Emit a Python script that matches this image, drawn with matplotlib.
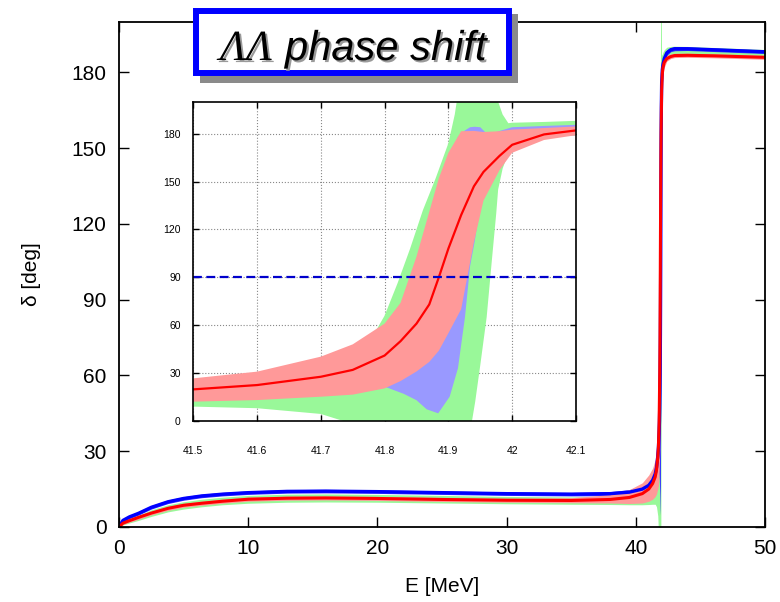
import matplotlib
matplotlib.use('Agg')
import matplotlib.pyplot as plt
import matplotlib.patheffects as pe
from matplotlib.patches import Rectangle

plt.rcParams['font.family'] = ['Liberation Sans', 'DejaVu Sans']

# red: central result with its band
red_E = [0, 0.3, 0.8, 1.5, 2.5, 3.8, 5, 6.4, 8, 10, 13, 16, 20, 25, 30, 35, 38, 39.5, 40.5, 41, 41.3,
         41.5, 41.6, 41.7, 41.75, 41.8, 41.825, 41.85, 41.87, 41.885, 41.9, 41.92, 41.94, 41.955, 41.98,
         42.0, 42.05, 42.1, 42.2, 42.4, 42.7, 43, 44, 46, 48, 50]
red_mid = [0, 1.5, 2.5, 3.8, 5.5, 7.4, 8.6, 9.4, 10.2, 11, 11.4, 11.5, 11.3, 10.9, 10.6, 10.5, 10.9, 11.7, 13.2, 15, 17.2,
           19.8, 22.5, 27.7, 32, 41, 50, 61, 73, 90, 108, 129, 147, 156, 166,
           173, 179.5, 182, 184, 185.5, 186.3, 186.7, 186.8, 186.6, 186.3, 186]
red_lo = [0, 1.0, 1.9, 3.0, 4.8, 6.6, 7.8, 8.6, 9.4, 10.2, 10.6, 10.7, 10.5, 10.1, 9.8, 9.6, 9.5, 9.3, 9.5, 10.2, 11,
          12.1, 13.1, 15.2, 16.5, 20.4, 25, 31, 37, 44, 55, 70, 112, 138, 157,
          168, 176, 179, 182, 184.5, 185.5, 185.9, 186, 185.8, 185.5, 185.2]
red_hi = [0, 2.0, 3.1, 4.6, 6.2, 8.2, 9.4, 10.2, 11.0, 11.8, 12.2, 12.3, 12.1, 11.7, 11.4, 11.6, 12.8, 14.8, 17.5, 20.6, 23.3,
          26.7, 30.9, 40.3, 48, 61, 74, 103, 131, 152, 168, 181.5, 181.7, 181, 181.5,
          182.5, 183.5, 184.5, 185.7, 186.8, 187.3, 187.6, 187.6, 187.4, 187.1, 186.8]

# blue result
blue_E = [0, 0.3, 0.8, 1.5, 2.5, 3.8, 5, 6.4, 8, 10, 13, 16, 20, 25, 30, 35, 38, 39.5, 40.5, 41, 41.3,
          41.5, 41.6, 41.7, 41.75, 41.8, 41.83, 41.85, 41.866, 41.884, 41.902, 41.915, 41.926, 41.934, 41.941,
          41.95, 41.96, 41.975, 42.0, 42.05, 42.1, 42.2, 42.4, 42.7, 43, 44, 46, 48, 50]
blue_mid = [0, 2.6, 4.0, 5.4, 7.8, 10, 11.3, 12.3, 13, 13.6, 14.1, 14.2, 14, 13.6, 13.2, 13, 13.2, 13.8, 15, 16.5, 18.5,
            21, 23.5, 28, 31.5, 37, 42, 47, 53, 62, 76, 90, 105, 118, 130,
            143, 155, 166, 176, 181, 183, 185.5, 187.8, 189, 189.4, 189.4, 189, 188.6, 188.2]
blue_lo = [0, 2.0, 3.3, 4.7, 7.1, 9.3, 10.6, 11.6, 12.3, 12.9, 13.4, 13.5, 13.3, 12.9, 12.5, 12.3, 12.4, 12.8, 13.3, 13.6, 13.8,
           14, 14.5, 16.5, 18.5, 21.5, 17, 13, 7.3, 4.8, 15.2, 33, 65, 97, 112,
           135, 148, 159, 170, 178, 181, 184, 186.8, 188.2, 188.6, 188.7, 188.3, 187.9, 187.5]
blue_hi = [0, 3.2, 4.7, 6.1, 8.5, 10.7, 12, 13, 13.7, 14.3, 14.8, 14.9, 14.7, 14.3, 13.9, 13.7, 14, 14.8, 16.5, 19, 22,
           25, 29, 38, 46, 58, 72, 90, 110, 135, 165, 178, 182, 184, 184.3,
           184, 180, 181, 184, 184.8, 185.5, 187, 189, 189.8, 190.2, 190.1, 189.7, 189.3, 188.9]

# green result (band only)
green_E = [0, 0.3, 0.8, 1.5, 2.5, 3.8, 5, 6.4, 8, 10, 13, 16, 20, 25, 30, 35, 38, 39.5, 40.5, 41, 41.3,
           41.5, 41.6, 41.7, 41.735, 41.777, 41.8, 41.82, 41.84, 41.86, 41.88, 41.9, 41.91, 41.915, 41.937,
           41.942, 41.95, 41.96, 41.968, 41.975, 41.978, 41.985, 41.994, 42.0, 42.05, 42.1, 42.2, 42.4, 42.7,
           43, 44, 46, 48, 50]
green_lo = [0, 0.8, 1.6, 2.6, 4.2, 6, 7.1, 8, 8.8, 9.4, 9.8, 9.9, 9.8, 9.5, 9.2, 9, 8.9, 8.8, 8.8, 8.9, 9,
            9, 8, 4.4, 0, 0, 0, 0, 0, 0, 0, 0, 0, 0, 0,
            12, 35, 65, 100, 130, 145, 158, 168, 172, 180, 183, 185, 186.5, 187,
            187.3, 187.3, 187, 186.6, 186.2]
green_hi = [0, 1.8, 3.2, 4.6, 6.8, 8.8, 10, 11, 11.8, 12.5, 13, 13.1, 12.9, 12.5, 12.1, 11.9, 12.1, 12.8, 14, 16, 18.5,
            22, 25, 34, 40, 50, 66, 86, 108, 132, 152, 174, 192, 205, 205,
            205, 205, 205, 205, 205, 200, 192, 186.5, 186.8, 187.3, 188, 189, 190, 190.3,
            190.4, 190.3, 189.9, 189.5, 189.1]

main_ticks = [0, 30, 60, 90, 120, 150, 180]
inset_xticks = [41.5, 41.6, 41.7, 41.8, 41.9, 42.0, 42.1]
inset_xlabels = ['41.5', '41.6', '41.7', '41.8', '41.9', '42', '42.1']

c_green = '#99f899'
c_blue = '#9999ff'
c_pink = '#ff9999'

fig = plt.figure(figsize=(7.8, 6.02), dpi=100)
ax = fig.add_axes([0.1526, 0.1246, 0.8282, 0.8389])

ax.fill_between(green_E, green_lo, green_hi, color=c_green, lw=0)
ax.fill_between(blue_E, blue_lo, blue_hi, color='#3333ff', lw=0)
ax.fill_between(red_E, red_lo, red_hi, color=c_pink, lw=0)
ax.plot(blue_E, blue_mid, color='#0000ff', lw=2.4)
ax.plot(red_E, red_mid, color='#ff0000', lw=2.2)

ax.set_xlim(0, 50)
ax.set_ylim(0, 200)
ax.set_yticks(main_ticks)
ax.set_xticks([0, 10, 20, 30, 40, 50])
ax.tick_params(direction='in', length=7, width=1, top=True, right=True, labelsize=15, pad=9)
for s in ax.spines.values():
    s.set_linewidth(1.3)
ax.set_xlabel('E [MeV]', fontsize=15, labelpad=13)
ax.set_ylabel('δ [deg]', fontsize=15, labelpad=22)

# zoom around the resonance
axi = fig.add_axes([0.2478, 0.3007, 0.4906, 0.5304])
axi.set_facecolor('white')
axi.fill_between(green_E, green_lo, green_hi, color=c_green, lw=0)
axi.fill_between(blue_E, blue_lo, blue_hi, color=c_blue, lw=0)
axi.fill_between(red_E, red_lo, red_hi, color=c_pink, lw=0)
axi.plot(red_E, red_mid, color='#ff0000', lw=1.6)
axi.axhline(90, color='#0000cc', ls='--', lw=1.6, dashes=(4, 2))
axi.set_xlim(41.5, 42.1)
axi.set_ylim(0, 200)
axi.set_xticks(inset_xticks)
axi.set_xticklabels(inset_xlabels)
axi.set_yticks(main_ticks)
axi.grid(True, color='#888888', ls=':', lw=0.8)
axi.set_axisbelow(True)
axi.tick_params(direction='in', length=4, width=1, top=True, right=True, labelsize=7.5)
axi.tick_params(axis='x', pad=18)
axi.tick_params(axis='y', pad=9)
for s in axi.spines.values():
    s.set_linewidth(1.2)

# title box with drop shadow
W, H = 780.0, 602.0
def fx(x):
    return x / W
def fy(y):
    return 1 - y / H

fig.patches.append(Rectangle((fx(200), fy(83)), fx(518) - fx(200), fy(14) - fy(83),
                             transform=fig.transFigure, facecolor='#8a8a8a', edgecolor='none', zorder=5))
fig.patches.append(Rectangle((fx(196), fy(73)), fx(509) - fx(196), fy(10.5) - fy(73),
                             transform=fig.transFigure, facecolor='white', edgecolor='#0000ff',
                             lw=4.3, zorder=6))
shadow = [pe.SimplePatchShadow(offset=(1.5, -1.5), shadow_rgbFace='#9a9a9a', alpha=1), pe.Normal()]
fig.text(fx(272), fy(60), 'ΛΛ', family=['Liberation Serif', 'DejaVu Serif'], style='italic',
         fontsize=31, ha='right', va='baseline', color='black', zorder=8, path_effects=shadow)
fig.text(fx(285), fy(60), 'phase shift', style='italic',
         fontsize=30, ha='left', va='baseline', color='black', zorder=8, path_effects=shadow)

fig.savefig('out.png', dpi=100)
